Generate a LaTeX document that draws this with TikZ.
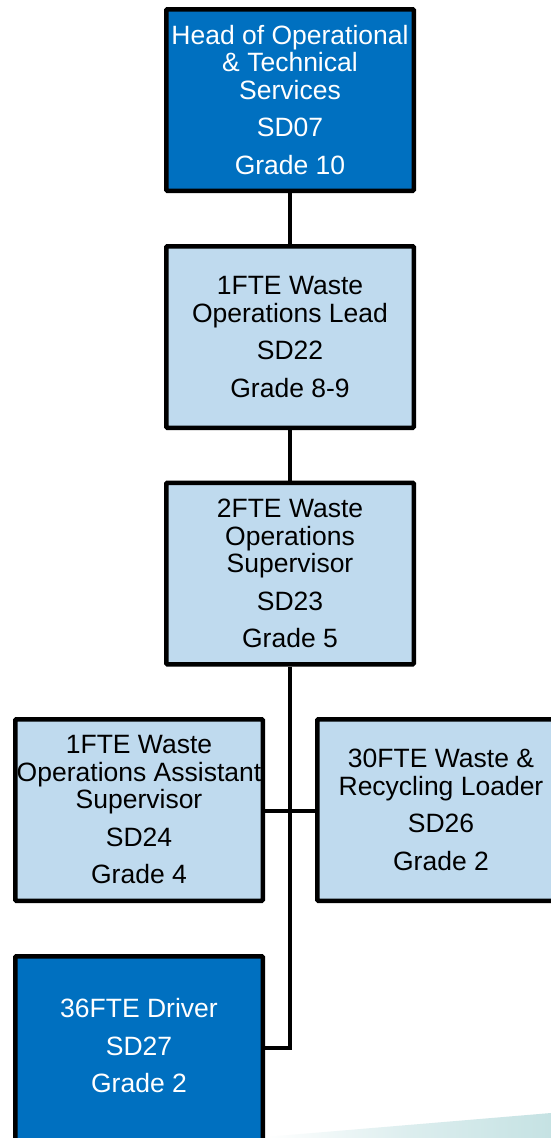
\documentclass[tikz,border=0pt]{standalone}
\usepackage{fontspec}
\setmainfont{Liberation Sans}
\definecolor{darkbox}{HTML}{0070C0}
\definecolor{lightbox}{HTML}{BFDAEE}
\definecolor{teal}{HTML}{C5E2E3}
\begin{document}
\begin{tikzpicture}[x=1pt,y=-1pt,
  roletext/.style={align=center, font=\fontsize{26.5}{27.5}\selectfont, inner sep=0pt},
  role/.style={roletext, draw=black, line width=4.5pt, rounded corners=1pt,
    minimum width=247.5pt, minimum height=181.5pt},
  darkrole/.style={role, fill=darkbox, text=white},
  lightrole/.style={role, fill=lightbox, text=black},
  link/.style={draw=black, line width=4pt}]
\useasboundingbox (0,0) rectangle (551,1138);
\clip (0,0) rectangle (551,1138);
\fill[white] (0,0) rectangle (551,1138);
% decorative teal wedge
\shade[left color=white, right color=teal, middle color=teal!60]
  (265,1137) -- (551,1113) -- (551,1138) -- (265,1138) -- cycle;
% connectors
\coordinate (j1) at (290,811);
\coordinate (j2) at (290,1048);
\node[darkrole] (head) at (290,100) {Head of Operational\\ \& Technical\\ Services\\[10pt] SD07\\[10pt] Grade 10};
\node[lightrole] (lead) at (290,337) {1FTE Waste\\ Operations Lead\\[10pt] SD22\\[10pt] Grade 8-9};
\node[lightrole] (sup) at (290,573.5) {2FTE Waste\\ Operations\\ Supervisor\\[10pt] SD23\\[10pt] Grade 5};
\node[lightrole] (asst) at (139,810) {1FTE Waste\\ Operations Assistant\\ Supervisor\\[10pt] SD24\\[10pt] Grade 4};
\node[lightrole] (load) at (441,810) {30FTE Waste \&\\ Recycling Loader\\[10pt] SD26\\[10pt] Grade 2};
\node[darkrole, minimum height=221.5pt] (drv) at (139,1067) {};
\node[roletext, text=white] (drvtext) at (139,1046) {36FTE Driver\\[10pt] SD27\\[10pt] Grade 2};
\draw[link] (head.south) -- (lead.north);
\draw[link] (lead.south) -- (sup.north);
\draw[link] (sup.south) -- (j2) -- (drv.east |- j2);
\draw[link] (asst.east |- j1) -- (load.west |- j1);
\end{tikzpicture}
\end{document}
